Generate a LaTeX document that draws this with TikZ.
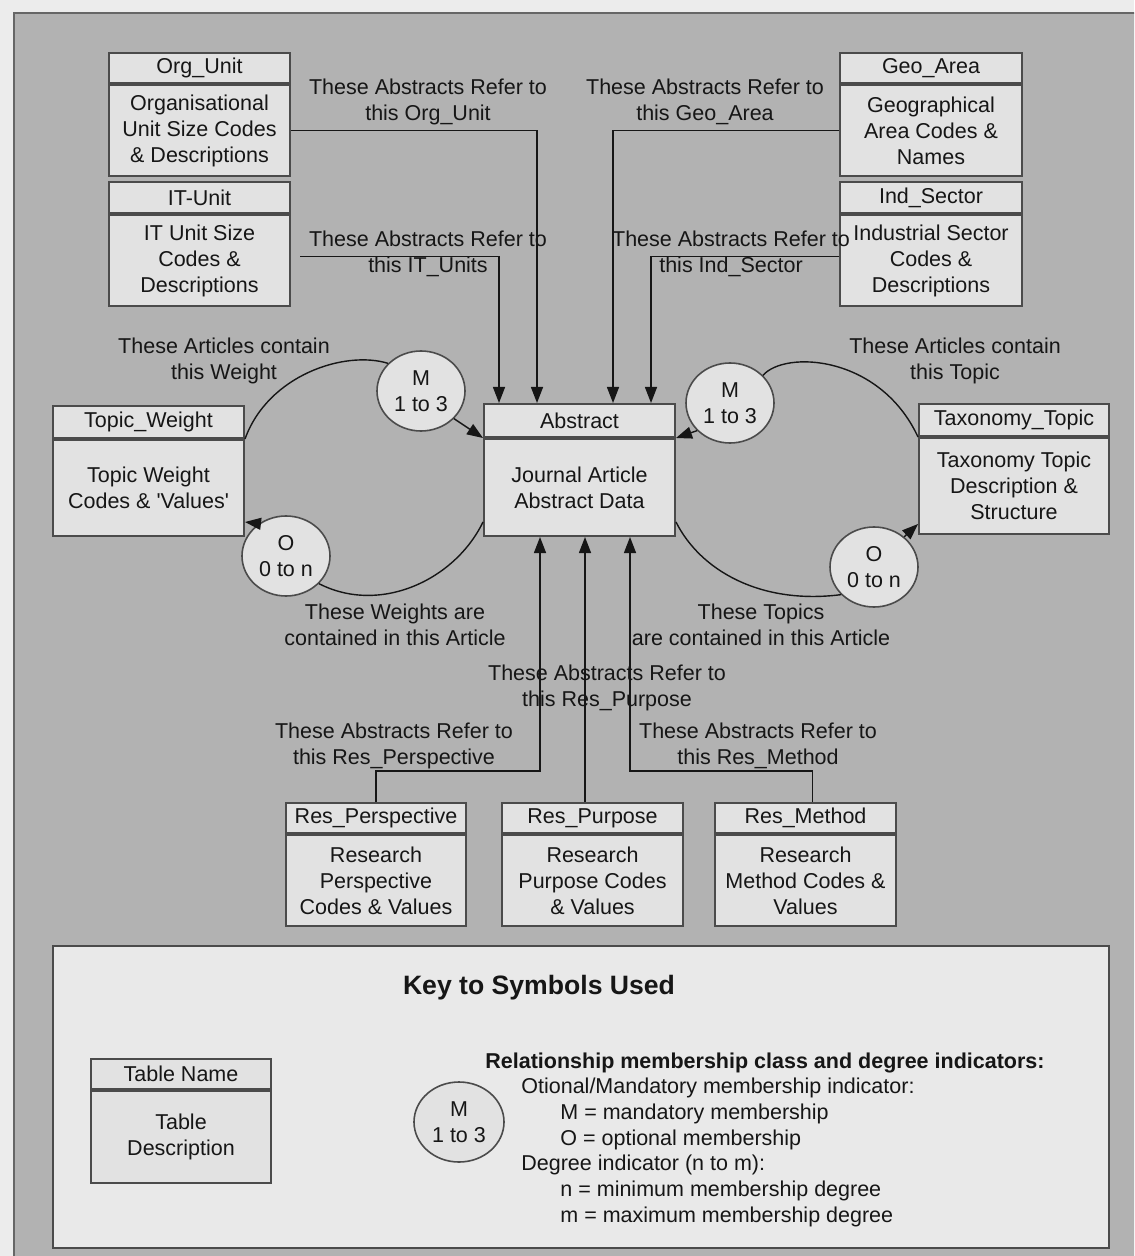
\documentclass[tikz,border=0pt]{standalone}
\usepackage{fontspec}
\setmainfont{Liberation Sans}
\usetikzlibrary{arrows.meta,calc,shapes.geometric}

\definecolor{margin}{RGB}{236,236,236}
\definecolor{panel}{RGB}{178,178,178}
\definecolor{boxfill}{RGB}{226,226,226}
\definecolor{keyfill}{RGB}{233,233,233}
\definecolor{ink}{RGB}{22,22,22}
\definecolor{edge}{RGB}{75,75,75}

% table box: name, left, top, right, header bottom, bottom, header, body
\newcommand\dbtable[8]{%
  \node[hdr, minimum width={(#4-#2)*0.5pt}, minimum height={(#5-#3)*0.5pt}] (#1h) at (#2,#3) {#7};
  \node[bdy, minimum width={(#4-#2)*0.5pt}, minimum height={(#6-#5)*0.5pt}] (#1) at (#1h.south west) {#8};
}

\begin{document}
\begin{tikzpicture}[x=0.5pt,y=-0.5pt,
  every node/.style={font=\fontsize{10.75}{13}\selectfont, text=ink},
  hdr/.style={draw=edge, line width=1pt, fill=boxfill, inner sep=0pt, anchor=north west},
  bdy/.style={draw=edge, line width=1pt, fill=boxfill, inner sep=0pt, align=center, anchor=north west},
  rel/.style={draw=edge, line width=0.8pt, fill=boxfill, ellipse, minimum width=44pt,
              minimum height=40pt, inner sep=0pt, align=center},
  lbl/.style={align=center, inner sep=0pt},
  legend/.style={anchor=base west, inner sep=0pt},
  conn/.style={draw=ink, line width=0.7pt},
  arr/.style={conn, -{Triangle[length=8pt,width=6pt]}},
]
\useasboundingbox (0,0) rectangle (1134,1256);
\clip (0,0) rectangle (1134,1256);

% page and grey panel
\fill[margin] (0,0) rectangle (1134,1256);
\draw[fill=panel, draw=black!60, line width=1.2pt] (14,13) rectangle (1160,1280);

% tables
\dbtable{org}{108}{52}{289}{82}{173}{Org\_Unit}{Organisational\\Unit Size Codes\\\& Descriptions}
\dbtable{geo}{839}{52}{1021}{82}{173}{Geo\_Area}{Geographical\\Area Codes \&\\Names}
\dbtable{it}{108}{181}{289}{212}{303}{IT-Unit}{IT Unit Size\\Codes \&\\Descriptions}
\dbtable{ind}{839}{181}{1021}{212}{303}{Ind\_Sector}{Industrial Sector\\Codes \&\\Descriptions}
\dbtable{tw}{52}{405}{243}{437}{533}{Topic\_Weight}{Topic Weight\\Codes \& \textquotesingle Values\textquotesingle}
\dbtable{abs}{483}{403}{674}{436}{533}{Abstract}{Journal Article\\Abstract Data}
\dbtable{tax}{918}{403}{1108}{435}{531}{Taxonomy\_Topic}{Taxonomy Topic\\Description \&\\Structure}
\dbtable{rpe}{285}{802}{465}{832}{923}{Res\_Perspective}{Research\\Perspective\\Codes \& Values}
\dbtable{rpu}{501}{802}{682}{832}{923}{Res\_Purpose}{Research\\Purpose Codes\\\& Values}
\dbtable{rme}{714}{802}{895}{832}{923}{Res\_Method}{Research\\Method Codes \&\\Values}

% membership / degree indicators
\node[rel] (mL) at (421,391) {M\\1 to 3};
\node[rel] (mR) at (730,403) {M\\1 to 3};
\node[rel] (oL) at (286,556) {O\\0 to n};
\node[rel] (oR) at (874,567) {O\\0 to n};

% entry points on the Abstract table
\coordinate (t1) at ($(absh.north west)+(16,0)$);
\coordinate (t2) at ($(absh.north west)+(54,0)$);
\coordinate (t3) at ($(absh.north west)+(130,0)$);
\coordinate (t4) at ($(absh.north west)+(168,0)$);
\coordinate (a1) at ($(abs.south west)+(57,0)$);
\coordinate (a2) at ($(abs.south west)+(102,0)$);
\coordinate (a3) at ($(abs.south west)+(147,0)$);

% references from the code tables
\draw[arr] (org.east) -| (t2);
\draw[arr] (geo.west) -| (t3);
\draw[arr] ($(it.east)+(9,-4)$) -| (t1);
\draw[arr] ($(ind.west)+(0,-4)$) -| (t4);
\draw[arr] (rpeh.north) -- ++(0,-31) -| (a1);
\draw[arr] (a2 |- rpuh.north) -- (a2);
\draw[arr] ($(rmeh.north)+(7,0)$) -- ++(0,-31) -| (a3);

% weight and topic relationships
\draw[conn] (twh.south east) .. controls (268,375) and (345,350) .. (mL.140);
\draw[arr] (mL.-40) -- (absh.south west);
\draw[arr] (mR.220) -- (absh.south east);
\draw[conn] (mR.40) .. controls (785,350) and (880,355) .. (taxh.south west);
\draw[conn] ($(abs.south west)+(0,-15)$) .. controls (455,580) and (380,615) .. (oL.-40);
\draw[arr] (oL.130) -- ($(tw.south east)+(0,-15)$);
\draw[conn] ($(abs.south east)+(0,-15)$) .. controls (700,570) and (760,605) .. (oR.220);
\draw[arr] (oR.45) -- ($(tax.south west)+(0,-11)$);

% relationship labels
\node[lbl] (lorg) at (428,102) {These Abstracts Refer to\\this Org\_Unit};
\node[lbl] (lgeo) at (705,102) {These Abstracts Refer to\\this Geo\_Area};
\node[lbl] (lit) at (428,253.5) {These Abstracts Refer to\\this IT\_Units};
\node[lbl] (lind) at (731,253.5) {These Abstracts Refer to\\this Ind\_Sector};
\node[lbl] (ltw1) at (224,360.5) {These Articles contain\\this Weight};
\node[lbl] (ltx1) at (955,360.5) {These Articles contain\\this Topic};
\node[lbl] (ltw2) at (395,625) {These Weights are\\contained in this Article};
\node[lbl] (ltx2) at (761,625) {These Topics\\are contained in this Article};
\node[lbl] (lrpu) at (607,688) {These Abstracts Refer to\\this Res\_Purpose};
\node[lbl] (lrpe) at (394,745.5) {These Abstracts Refer to\\this Res\_Perspective};
\node[lbl] (lrme) at (758,745.5) {These Abstracts Refer to\\this Res\_Method};

% key
\node[draw=edge, fill=keyfill, line width=1pt, minimum width=528pt, minimum height=151pt,
      anchor=north west, inner sep=0pt] (keybox) at (52,945) {};
\node[font=\bfseries\fontsize{13.3}{16}\selectfont] (keytitle) at (539,988) {Key to Symbols Used};
\dbtable{tn}{90}{1058}{270}{1088}{1180}{Table Name}{Table\\Description}
\node[rel, minimum width=45pt] (keyrel) at (459,1122) {M\\1 to 3};
\node[legend, font=\bfseries\fontsize{10.75}{13}\selectfont] (k0) at (485,1068.7)
  {Relationship membership class and degree indicators:};
\node[legend] (k1) at (521,1093.7) {Otional/Mandatory membership indicator:};
\node[legend] (k2) at (560,1119.7) {M = mandatory membership};
\node[legend] (k3) at (560,1145.7) {O = optional membership};
\node[legend] (k4) at (521,1170.7) {Degree indicator (n to m):};
\node[legend] (k5) at (560,1196.7) {n = minimum membership degree};
\node[legend] (k6) at (560,1222.7) {m = maximum membership degree};
\end{tikzpicture}
\end{document}
